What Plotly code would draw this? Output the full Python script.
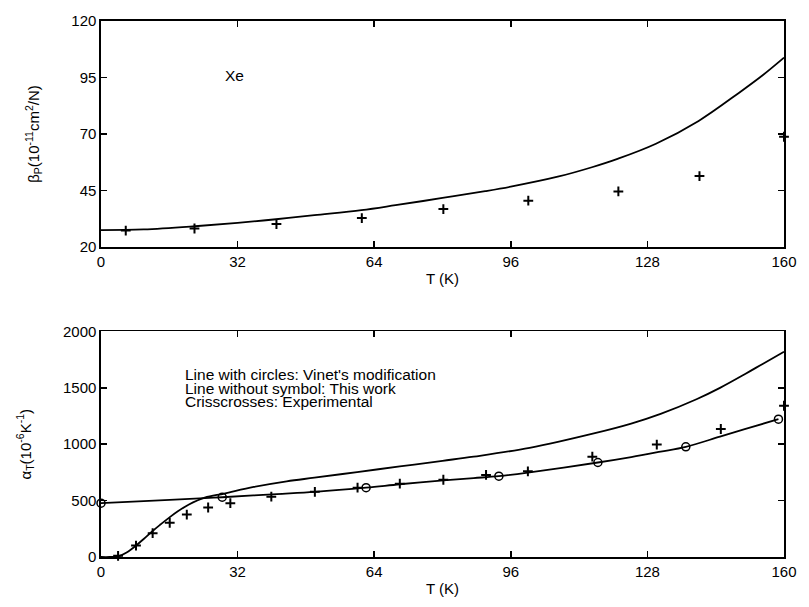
import plotly.graph_objects as go

# ---------------- data ----------------
# Top panel: isobaric compressibility beta_P of Xe
t_beta_calc = [0, 10, 22, 32, 41, 50, 61, 69, 80, 90, 96, 107, 115, 121, 130, 140, 149.5, 155, 160]
beta_calc = [27.5, 27.8, 29.2, 30.7, 32.3, 34.1, 36.3, 38.5, 41.7, 44.7, 46.7, 51.1, 55.3, 59.0, 65.7, 75.8, 88.3, 96.0, 103.8]
t_beta_exp = [5.8, 21.9, 41.1, 61.1, 80.2, 100.1, 121.2, 140.2, 160]
beta_exp = [27.3, 28.2, 30.2, 32.8, 36.8, 40.5, 44.6, 51.4, 68.8]

# Bottom panel: thermal expansion alpha_T
t_alpha_this = [0, 2, 4, 6, 8.2, 10, 12.1, 14, 15.9, 18, 20.5, 24.3, 28.9, 35.8, 43.5, 50, 60, 70, 80,
                87.3, 100.4, 115.7, 124.2, 131.1, 139.5, 145, 151, 155, 160]
alpha_this = [0, 0, 5, 40, 101, 160, 231, 290, 347, 405, 463, 526, 563, 621, 671, 703, 753, 803, 853,
              890, 968, 1098, 1183, 1269, 1399, 1500, 1625, 1712, 1820]
t_alpha_vinet = [0, 10, 24.3, 28.4, 41.2, 50.1, 62.1, 70, 80.2, 87.3, 93.2, 100, 116.4, 124.2, 131.1,
                 137, 145, 152, 158.7]
alpha_vinet = [477, 496, 522, 530, 558, 578, 615, 645, 680, 700, 717, 748, 838, 886, 934,
               977, 1067, 1147, 1222]
t_alpha_vinet_sym = [0, 28.4, 62.1, 93.2, 116.4, 137, 158.7]
alpha_vinet_sym = [477, 530, 615, 717, 838, 977, 1222]
t_alpha_exp = [4.0, 8.2, 12.1, 16.1, 20.1, 25.1, 30.3, 39.9, 50.1, 60.1, 70.0, 80.2, 90.2, 100.0,
               115.1, 130.2, 145.2, 160]
alpha_exp = [10, 101, 211, 303, 376, 439, 477, 535, 578, 615, 650, 685, 728, 760, 890, 997, 1135, 1341]

x_ticks = [0, 32, 64, 96, 128, 160]
beta_ticks = [20, 45, 70, 95, 120]
alpha_ticks = [0, 500, 1000, 1500, 2000]

legend_lines = ["Line with circles: Vinet's modification",
                "Line without symbol: This work",
                "Crisscrosses: Experimental"]

# ---------------- figure ----------------
FONT = "Liberation Sans, Arial, Helvetica, sans-serif"
fig = go.Figure()

line_style = dict(color="black", width=1.8, shape="spline", smoothing=1.0)
cross_marker = dict(symbol="cross-thin", size=7, line=dict(color="black", width=2), color="black")
circle_marker = dict(symbol="circle-open", size=8, line=dict(color="black", width=1.5), color="black")

# top panel
fig.add_trace(go.Scatter(x=t_beta_calc, y=beta_calc, mode="lines", line=line_style,
                         xaxis="x", yaxis="y", name="This work"))
fig.add_trace(go.Scatter(x=t_beta_exp, y=beta_exp, mode="markers", marker=cross_marker,
                         xaxis="x", yaxis="y", name="Experimental", cliponaxis=False))

# bottom panel
fig.add_trace(go.Scatter(x=t_alpha_this, y=alpha_this, mode="lines", line=line_style,
                         xaxis="x2", yaxis="y2", name="This work"))
fig.add_trace(go.Scatter(x=t_alpha_vinet, y=alpha_vinet, mode="lines", line=line_style,
                         xaxis="x2", yaxis="y2", name="Vinet's modification"))
fig.add_trace(go.Scatter(x=t_alpha_vinet_sym, y=alpha_vinet_sym, mode="markers", marker=circle_marker,
                         xaxis="x2", yaxis="y2", name="Vinet's modification (symbols)", cliponaxis=False))
fig.add_trace(go.Scatter(x=t_alpha_exp, y=alpha_exp, mode="markers", marker=cross_marker,
                         xaxis="x2", yaxis="y2", name="Experimental", cliponaxis=False))

axis_common = dict(showline=True, linecolor="black", linewidth=1.6, mirror="ticks",
                   ticks="inside", ticklen=6, tickwidth=1.6, tickcolor="black",
                   showgrid=False, zeroline=False, ticklabeloverflow="allow",
                   tickfont=dict(family=FONT, size=15, color="black"))

fig.update_layout(
    width=809, height=607,
    margin=dict(l=101, r=13, t=13, b=45),
    paper_bgcolor="white", plot_bgcolor="white",
    showlegend=False,
    font=dict(family=FONT, size=15, color="black"),
    xaxis=dict(axis_common, domain=[0, 1], range=[0, 160], tickvals=x_ticks, anchor="y",
               title=dict(text="T (K)", standoff=5, font=dict(family=FONT, size=15))),
    yaxis=dict(axis_common, domain=[0.5783, 1], range=[20, 120], tickvals=beta_ticks, anchor="x",
               title=dict(text="β<sub>P</sub>(10<sup>-11</sup>cm<sup>2</sup>/N)", standoff=28,
                          font=dict(family=FONT, size=15))),
    xaxis2=dict(axis_common, domain=[0, 1], range=[0, 160], tickvals=x_ticks, anchor="y2",
                title=dict(text="T (K)", standoff=5, font=dict(family=FONT, size=15))),
    yaxis2=dict(axis_common, domain=[0, 0.4208], range=[0, 2000], tickvals=alpha_ticks, anchor="x2",
                title=dict(text="α<sub>T</sub>(10<sup>-6</sup>K<sup>-1</sup>)", standoff=28,
                           font=dict(family=FONT, size=15))),
)

fig.add_annotation(x=28.5, y=96, xref="x", yref="y", text="Xe", showarrow=False,
                   xanchor="left", yanchor="middle", font=dict(family=FONT, size=15.5))

for txt, yv in zip(legend_lines, [1619, 1497, 1380]):
    fig.add_annotation(x=19.1, y=yv, xref="x2", yref="y2", text=txt, showarrow=False,
                       xanchor="left", yanchor="middle", font=dict(family=FONT, size=15.5))

# remove the browser's default 8px body margin so the figure fills the window exactly
fig.write_html("out.html",
               config={"displayModeBar": False, "staticPlot": True},
               post_script="document.body.style.margin='0px';")
